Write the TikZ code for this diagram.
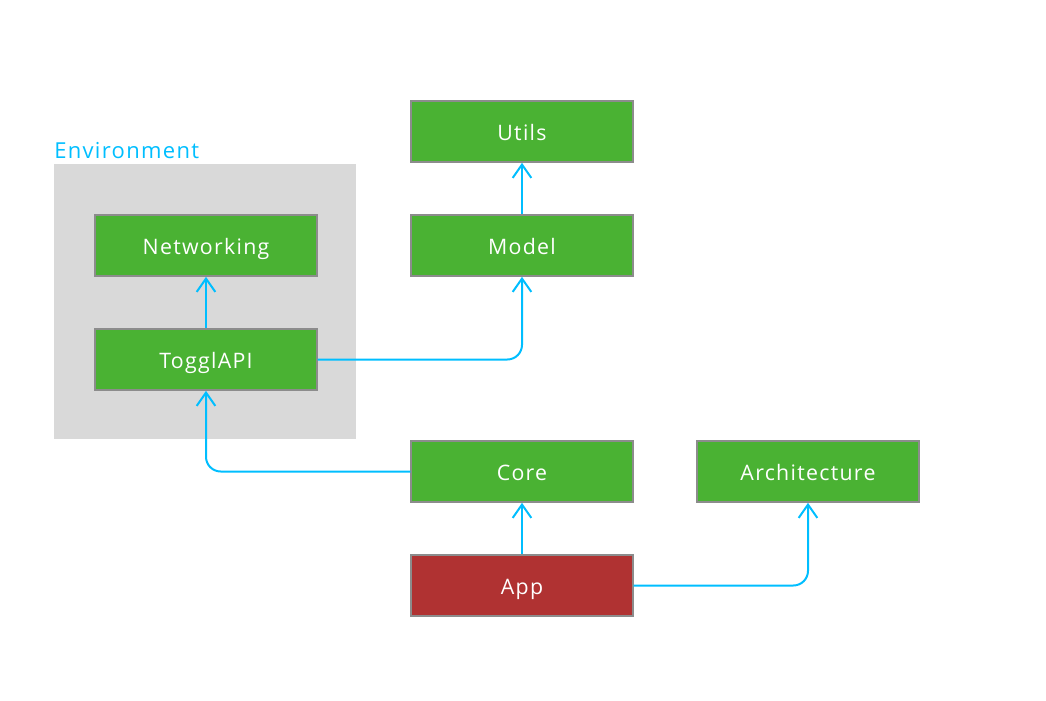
\documentclass[tikz,border=0pt]{standalone}
\usepackage{fontspec}
\setmainfont{Open Sans}[LetterSpace=6]
\usetikzlibrary{arrows.meta}
\definecolor{boxgreen}{RGB}{74,178,51}
\definecolor{boxred}{RGB}{176,50,50}
\definecolor{boxborder}{RGB}{140,140,140}
\definecolor{envgray}{RGB}{217,217,217}
\definecolor{linkcyan}{RGB}{0,190,255}
\begin{document}
\begin{tikzpicture}[x=0.75pt,y=-0.75pt,
  modbox/.style={draw=boxborder,line width=1.5pt,fill=boxgreen,minimum width=166pt,minimum height=45.5pt,inner sep=0pt,text=white,text height=14pt,text depth=0pt,font=\fontsize{16}{19}\selectfont},
  appbox/.style={modbox,fill=boxred},
  link/.style={draw=linkcyan,line width=1.5pt,rounded corners=11pt,-{Straight Barb[length=10pt,width=14pt,line width=1.5pt]}}]
\useasboundingbox (0,0) rectangle (1046,700);
\fill[envgray] (54,164) rectangle (356,439);
\node[anchor=base west,inner sep=0pt,text=linkcyan,font=\fontsize{16.5}{19}\selectfont] (envlabel) at (54,158) {Environment};
\node[modbox] (utils) at (522,131.5) {Utils};
\node[modbox] (model) at (522,245.5) {Model};
\node[modbox] (net) at (206,245.5) {Networking};
\node[modbox] (api) at (206,359.5) {TogglAPI};
\node[modbox] (core) at (522,471.5) {Core};
\node[modbox] (arch) at (808,471.5) {Architecture};
\node[appbox] (app) at (522,585.5) {App};
\draw[link] (model) -- (utils);
\draw[link] (api) -- (net);
\draw[link] (api.east) -- (model.south |- api.east) -- (model.south);
\draw[link] (core.west) -- (api.south |- core.west) -- (api.south);
\draw[link] (app) -- (core);
\draw[link] (app.east) -- (arch.south |- app.east) -- (arch.south);
\end{tikzpicture}
\end{document}
